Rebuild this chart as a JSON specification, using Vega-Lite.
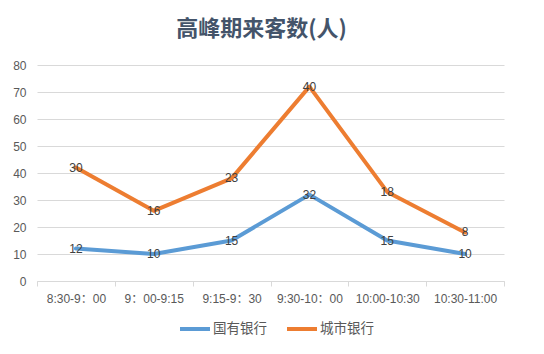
{
  "$schema": "https://vega.github.io/schema/vega-lite/v6.json",
  "width": 467,
  "height": 216,
  "autosize": {"type": "none"},
  "padding": {"left": 37, "top": 65, "right": 40, "bottom": 73},
  "background": "white",
  "title": {
    "text": "高峰期来客数(人)",
    "font": "Noto Sans CJK SC",
    "fontSize": 22,
    "fontWeight": "bold",
    "color": "#44546a",
    "anchor": "middle",
    "dx": -9,
    "offset": 18
  },
  "config": {
    "view": {"stroke": null},
    "font": "Liberation Sans, Noto Sans CJK SC"
  },
  "data": {
    "values": [
      {"time": "8:30-9：00", "bank": "国有银行", "value": 12},
      {"time": "9：00-9:15", "bank": "国有银行", "value": 10},
      {"time": "9:15-9：30", "bank": "国有银行", "value": 15},
      {"time": "9:30-10：00", "bank": "国有银行", "value": 32},
      {"time": "10:00-10:30", "bank": "国有银行", "value": 15},
      {"time": "10:30-11:00", "bank": "国有银行", "value": 10},
      {"time": "8:30-9：00", "bank": "城市银行", "value": 30},
      {"time": "9：00-9:15", "bank": "城市银行", "value": 16},
      {"time": "9:15-9：30", "bank": "城市银行", "value": 23},
      {"time": "9:30-10：00", "bank": "城市银行", "value": 40},
      {"time": "10:00-10:30", "bank": "城市银行", "value": 18},
      {"time": "10:30-11:00", "bank": "城市银行", "value": 8}
    ]
  },
  "transform": [
    {"stack": "value", "groupby": ["time"], "sort": [{"field": "bank", "order": "ascending"}], "as": ["v0", "v1"]}
  ],
  "encoding": {
    "x": {
      "field": "time",
      "type": "nominal",
      "sort": null,
      "scale": {"type": "band", "paddingInner": 0, "paddingOuter": 0},
      "axis": {
        "title": null,
        "labelAngle": 0,
        "labelFontSize": 12,
        "labelColor": "#595959",
        "labelPadding": 7,
        "domainColor": "#d9d9d9",
        "tickColor": "#d9d9d9",
        "tickSize": 5,
        "tickBand": "extent",
        "grid": false
      }
    },
    "y": {
      "field": "v1",
      "type": "quantitative",
      "scale": {"domain": [0, 80]},
      "axis": {
        "title": null,
        "values": [0, 10, 20, 30, 40, 50, 60, 70, 80],
        "labelFontSize": 12,
        "labelColor": "#595959",
        "labelPadding": 11,
        "domain": false,
        "ticks": false,
        "gridColor": "#d9d9d9"
      }
    }
  },
  "layer": [
    {
      "mark": {"type": "line", "strokeWidth": 4, "strokeCap": "round", "strokeJoin": "round"},
      "encoding": {
        "color": {
          "field": "bank",
          "type": "nominal",
          "scale": {"domain": ["国有银行", "城市银行"], "range": ["#5b9bd5", "#ed7d31"]},
          "legend": {
            "title": null,
            "orient": "none",
            "direction": "horizontal",
            "legendX": 141,
            "legendY": 247,
            "symbolType": "stroke",
            "symbolSize": 900,
            "symbolStrokeWidth": 4,
            "labelFontSize": 13.5,
            "labelColor": "#595959",
            "labelFont": "Noto Sans CJK SC",
            "labelOffset": 1,
            "columnPadding": 12
          }
        }
      }
    },
    {
      "mark": {"type": "text", "fontSize": 12, "color": "#404040", "baseline": "middle", "align": "center"},
      "encoding": {
        "text": {"field": "value", "type": "quantitative"},
        "detail": {"field": "bank", "type": "nominal"}
      }
    }
  ]
}
